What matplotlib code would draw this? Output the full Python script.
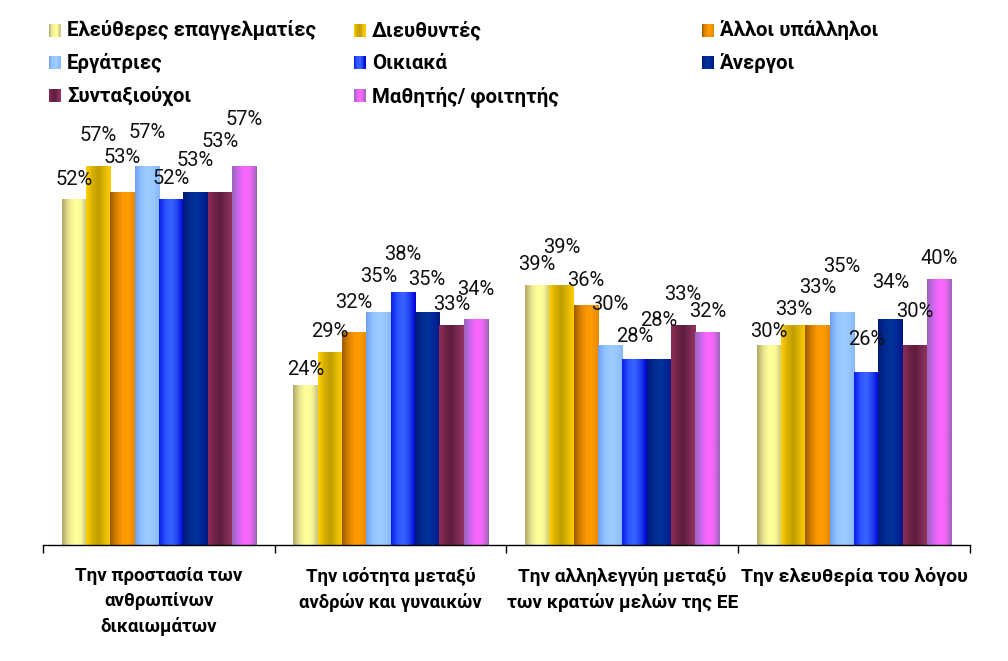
import numpy as np
import matplotlib
matplotlib.use("Agg")
import matplotlib.pyplot as plt
from matplotlib.colors import LinearSegmentedColormap
from matplotlib.patches import Rectangle
from matplotlib.font_manager import FontProperties

categories = ["Την προστασία των\nανθρωπίνων\nδικαιωμάτων",
              "Την ισότητα μεταξύ\nανδρών και γυναικών",
              "Την αλληλεγγύη μεταξύ\nτων κρατών μελών της ΕΕ",
              "Την ελευθερία του λόγου"]
series = ["Ελεύθερες επαγγελματίες", "Διευθυντές", "Άλλοι υπάλληλοι",
          "Εργάτριες", "Οικιακά", "Άνεργοι", "Συνταξιούχοι", "Μαθητής/ φοιτητής"]

eleftheres = [52, 24, 39, 30]
dieftyntes = [57, 29, 39, 33]
alloi = [53, 32, 36, 33]
ergatries = [57, 35, 30, 35]
oikiaka = [52, 38, 28, 26]
anergoi = [53, 35, 28, 34]
syntaxiouxoi = [53, 33, 33, 30]
mathitis = [57, 34, 32, 40]
values = [eleftheres, dieftyntes, alloi, ergatries, oikiaka, anergoi, syntaxiouxoi, mathitis]

# label placement (pixels above bar top, label centre), per series x category
label_lift = [
    [20, 16, 21, 14],
    [31, 21, 38, 16],
    [35, 30, 25, 38],
    [34, 36, 41, 46],
    [21, 38, 22, 33],
    [32, 33, 38, 37],
    [51, 21, 31, 34],
    [47, 30, 21, 21],
]

gradients = [
    ["#b0a868", "#e8e490", "#ffff99", "#fcfa98", "#c8c080"],
    ["#ffd000", "#d8b000", "#c09c00", "#e0b800", "#ffcc00"],
    ["#9a5a00", "#d88000", "#ff9900", "#ff9a00", "#e08a00"],
    ["#70a0f0", "#90c0ff", "#a0ccff", "#98c8ff", "#88b8f8"],
    ["#0a1ee6", "#2a50ff", "#3a66ff", "#2040f0", "#0000d8"],
    ["#001a78", "#002a90", "#003399", "#00289a", "#001880"],
    ["#8e2c5c", "#702444", "#5e1e3e", "#7a2a52", "#943262"],
    ["#9966bb", "#d066ee", "#ff66ff", "#f066f4", "#9966bb"],
]
cmaps = [LinearSegmentedColormap.from_list(f"g{i}", g) for i, g in enumerate(gradients)]

CAL = ['Roboto', 'DejaVu Sans']
plt.rcParams['font.family'] = CAL

fig = plt.figure(figsize=(10.08, 6.61), dpi=100)
W, H = 1008, 661
ax = fig.add_axes([43 / W, (H - 545) / H, (970 - 43) / W, (545 - 80) / H])

n = len(series)
bar_w = 0.105
grad = np.linspace(0, 1, 64).reshape(1, -1)
for gi in range(len(categories)):
    start = gi + 0.5 - n * bar_w / 2
    for si in range(n):
        v = values[si][gi] / 100
        x0 = start + si * bar_w
        ax.imshow(grad, cmap=cmaps[si], extent=[x0, x0 + bar_w, 0, v],
                  aspect='auto', interpolation='bilinear', zorder=2)
        ax.annotate(f"{values[si][gi]}%", (x0 + bar_w / 2, v),
                    xytext=(0, label_lift[si][gi] * 0.72),
                    textcoords='offset points', ha='center', va='center',
                    fontsize=14.5, color='#111111', zorder=3, family=CAL)

ax.set_xlim(0, len(categories))
ax.set_ylim(0, 0.70)
for s in ['top', 'right', 'left']:
    ax.spines[s].set_visible(False)
ax.spines['bottom'].set_linewidth(1.0)
ax.set_yticks([])
ax.set_xticks(range(len(categories) + 1))
ax.set_xticklabels([])
ax.tick_params(axis='x', direction='out', length=6, width=1.0)
props = [FontProperties(family=CAL, weight='bold', size=13.5),
         FontProperties(family=CAL, weight='bold', size=13.3),
         FontProperties(family=CAL, weight='bold', size=13.7),
         FontProperties(family=CAL, weight='bold', size=14)]
for i, (cat, fp) in enumerate(zip(categories, props)):
    ax.text(i + 0.5, -22 / 465 * 0.70, cat, fontproperties=fp, ha='center', va='top',
            linespacing=1.5, transform=ax.transData, clip_on=False)

# legend: 3 columns, filled row by row (as in the reference)
col_x = [49, 354, 702]
row_base = [36.5, 69, 101.7]
leg_fp = FontProperties(family=CAL, weight='bold', size=14.7)
for i, name in enumerate(series):
    c, r = i % 3, i // 3
    mx, by = col_x[c], row_base[r]
    k = 10
    mw, mh = 11.5, 13
    for j in range(k):
        fig.add_artist(Rectangle(((mx + j * mw / k) / W, 1 - by / H),
                                 (mw / k + 0.4) / W, mh / H,
                                 transform=fig.transFigure,
                                 facecolor=cmaps[i]((j + 0.5) / k), edgecolor='none'))
    fig.text((mx + 18) / W, 1 - by / H, name, fontproperties=leg_fp,
             ha='left', va='baseline', color='#000000')

fig.savefig("out.png", dpi=100)
